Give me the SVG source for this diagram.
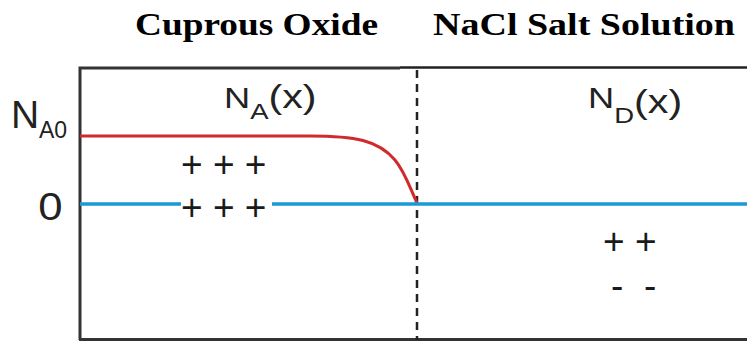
<svg xmlns="http://www.w3.org/2000/svg" width="747" height="343" viewBox="0 0 747 343">
<style>
.title{font-family:"Liberation Serif",serif;font-weight:bold;font-size:31px;fill:#000}
.lbl{font-family:"Liberation Sans",Arial,sans-serif;fill:#222}
.axis{stroke:#333;stroke-width:3;fill:none}
.pm{font-family:"Liberation Sans",Arial,sans-serif;font-size:37px;fill:#1a1a1a}
</style>
<rect width="747" height="343" fill="#fff"/>
<g id="titles">
<text class="title" x="135" y="35" textLength="243" lengthAdjust="spacingAndGlyphs">Cuprous Oxide</text>
<text class="title" x="433" y="35" textLength="302" lengthAdjust="spacingAndGlyphs">NaCl Salt Solution</text>
</g>
<g id="axes">
<path class="axis" d="M80,340 V68 H400"/>
<path d="M400,67.5 H747" stroke="#222" stroke-width="2.5"/>
<path class="axis" d="M79,339.5 H747"/>
<path d="M417,70 V340" stroke="#222" stroke-width="2.5" stroke-dasharray="8,6"/>
</g>
<g id="curves">
<path d="M80,136 H310 C355,136 378,140 395,160 C405,172 410,188 417,203" stroke="#d02a2a" stroke-width="3" fill="none"/>
<path d="M80,204 H181 M272,204 H747" stroke="#1a9ad6" stroke-width="3.5" fill="none"/>
</g>
<g id="labels">
<text class="lbl" x="11" y="128" font-size="39">N<tspan font-size="23" x="39" y="138">A0</tspan></text>
<text class="lbl" transform="translate(40,220) scale(1.15,1)" x="-1.5" y="0" font-size="38">0</text>
<text class="lbl" transform="translate(224,108) scale(1.25,1)" x="0" y="0" font-size="29">N<tspan font-size="22" dy="11">A</tspan><tspan font-size="33" dy="-11">(x)</tspan></text>
<text class="lbl" transform="translate(588,108) scale(1.25,1)" x="0" y="0" font-size="29">N<tspan font-size="22" dy="15">D</tspan><tspan font-size="33" dy="-10">(x)</tspan></text>
</g>
<g id="charges">
<text class="pm" x="181" y="177">+ + +</text>
<text class="pm" x="181" y="220">+ + +</text>
<text class="pm" x="603" y="254">+ +</text>
<text class="pm" x="611" y="298" xml:space="preserve">-  -</text>
</g>
</svg>
